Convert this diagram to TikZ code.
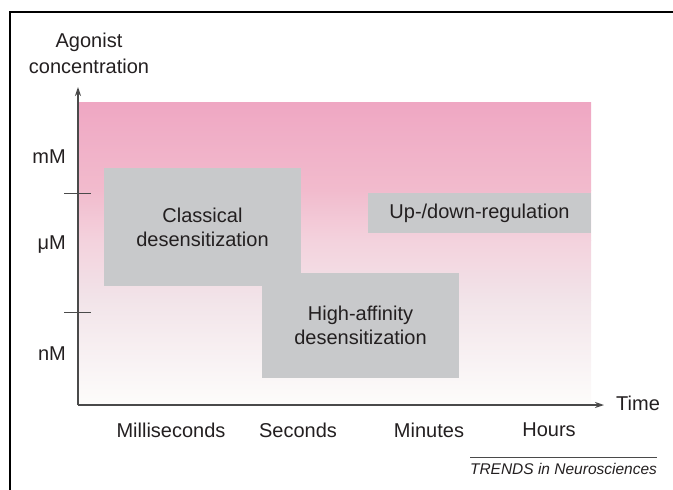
\documentclass[tikz,border=0pt]{standalone}
\usepackage{fontspec}
\setmainfont{Liberation Sans}
\usetikzlibrary{arrows.meta}
\definecolor{ink}{HTML}{231F20}
\definecolor{axisgray}{HTML}{4A4A4A}
\definecolor{boxgray}{HTML}{C8C9CB}
\definecolor{pinkA}{HTML}{EFA7C3}
\definecolor{pinkB}{HTML}{F2BBCD}
\definecolor{pinkC}{HTML}{F3D2DD}
\definecolor{pinkD}{HTML}{F2E4E9}
\definecolor{pinkE}{HTML}{FDFCFB}
\tikzset{
  lbl/.style={font=\fontsize{20}{24}\selectfont, text=ink, inner sep=0pt},
  regime/.style={fill=boxgray, draw=none, inner sep=0pt, align=center,
                 font=\fontsize{20}{24}\selectfont, text=ink},
  axisline/.style={draw=axisgray, line width=1.3pt,
                   -{Stealth[length=9pt,width=6pt]}},
  tick/.style={draw=axisgray, line width=1pt},
}
\begin{document}
\begin{tikzpicture}[x=1pt,y=-1pt]
\useasboundingbox (0,0) rectangle (673,490);
% open frame: top and left rules
\draw[line width=2.2pt, black] (10,490) -- (10,12) -- (673,12);

% concentration band, pink fading to white downward
\shade[top color=pinkA, bottom color=pinkB, draw=none] (78,102) rectangle (591,190.5);
\shade[top color=pinkB, bottom color=pinkC, draw=none] (78,190) rectangle (591,240.5);
\shade[top color=pinkC, bottom color=pinkD, draw=none] (78,240) rectangle (591,300.5);
\shade[top color=pinkD, bottom color=pinkE, draw=none] (78,300) rectangle (591,404);

% regimes
\node[regime, minimum width=197pt, minimum height=118pt] (classical) at (202.5,227)
  {Classical\\desensitization};
\node[regime, minimum width=197pt, minimum height=105pt] (highaff) at (360.5,325.5)
  {High-affinity\\desensitization};
\node[regime, minimum width=223pt, minimum height=40pt] (updown) at (479.5,213)
  {Up-/down-regulation};

% axes
\coordinate (origin) at (78,405);
\coordinate (ytop) at (78,87);
\coordinate (xend) at (604,405);
\draw[axisline] (origin) -- (ytop);
\draw[axisline] (origin) -- (xend);
\coordinate (t1a) at (64,193); \coordinate (t1b) at (91,193);
\coordinate (t2a) at (64,312); \coordinate (t2b) at (91,312);
\draw[tick] (t1a) -- (t1b);
\draw[tick] (t2a) -- (t2b);

% axis titles
\node[lbl] (agonist) at (89,42) {Agonist};
\node[lbl] (conc) at (89,66) {concentration};
\node[lbl, anchor=west] (time) at (616,403) {Time};

% concentration labels
\node[lbl, anchor=east] (mm) at (66,157) {mM};
\node[lbl, anchor=east] (um) at (66,245) {μM};
\node[lbl, anchor=east] (nm) at (66,354) {nM};

% time-scale labels
\node[lbl] (ms) at (171,430) {Milliseconds};
\node[lbl] (sec) at (298,430) {Seconds};
\node[lbl] (min) at (429,430) {Minutes};
\node[lbl] (hrs) at (549,430) {Hours};

% source line
\coordinate (srcL) at (470,457);
\coordinate (srcR) at (657,457);
\draw[draw=axisgray, line width=0.7pt] (srcL) -- (srcR);
\node[font=\fontsize{15.5}{18}\selectfont\itshape, text=ink, inner sep=0pt] (src) at (563.5,469)
  {TRENDS in Neurosciences};
\end{tikzpicture}
\end{document}
